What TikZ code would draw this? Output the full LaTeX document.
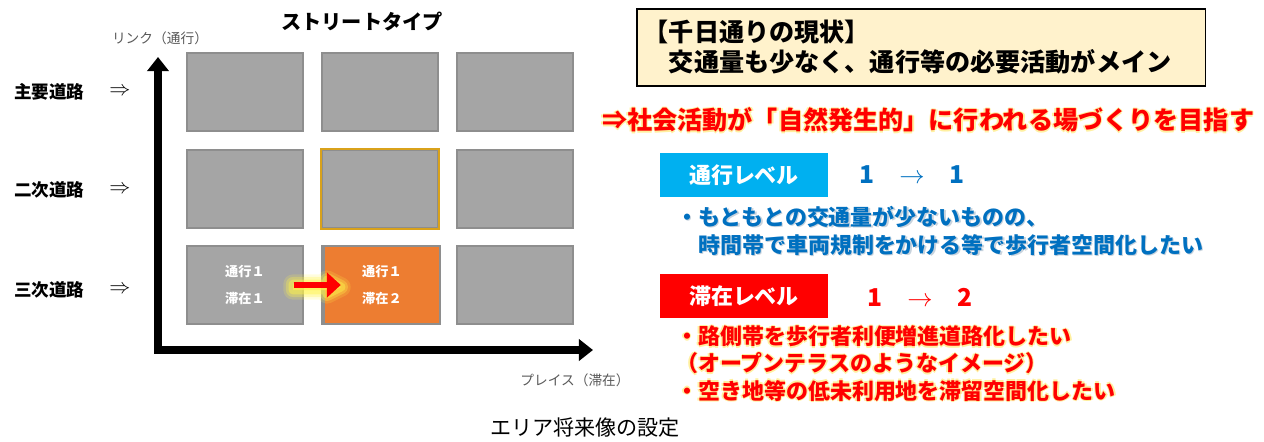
\documentclass[tikz,border=0pt]{standalone}
\usepackage{fontspec}
\setmainfont{Noto Sans CJK JP}
\usepackage{xcolor}
\usetikzlibrary{arrows.meta}

\definecolor{cellgray}{HTML}{A5A5A5}
\definecolor{cellline}{HTML}{8E8E8E}
\definecolor{celloran}{HTML}{ED7D31}
\definecolor{goldline}{HTML}{D9A21B}
\definecolor{notegray}{HTML}{595959}
\definecolor{statusyel}{HTML}{FFF2CC}
\definecolor{tsukoblue}{HTML}{00B0F0}
\definecolor{textblue}{HTML}{0070C0}
\definecolor{glowyel}{HTML}{FFF0A0}
\definecolor{arrowglow}{HTML}{FFF34A}
\definecolor{shadegray}{HTML}{C8D3DD}

% yellow halo round a line of text
\newcommand\haloline[1]{\leavevmode
  \rlap{\color{glowyel}\hspace*{0.8pt}#1}\rlap{\color{glowyel}\hspace*{-0.8pt}#1}%
  \rlap{\color{glowyel}\raisebox{0.8pt}{#1}}\rlap{\color{glowyel}\raisebox{-0.8pt}{#1}}#1}
% light shadow under a line of text
\newcommand\shadeline[1]{\leavevmode
  \rlap{\color{shadegray}\hspace*{0.7pt}\raisebox{-0.7pt}{#1}}#1}

\tikzset{
  cell/.style={draw=cellline, fill=cellgray, line width=0.8pt,
    minimum width=2.32cm, minimum height=1.56cm, inner sep=0pt,
    text=white, font=\fontsize{7.5}{15}\selectfont\bfseries, align=center},
  roadlabel/.style={anchor=west, font=\fontsize{10}{12}\selectfont\bfseries},
  axisnote/.style={text=notegray, font=\fontsize{7.8}{9}\selectfont},
  axis/.style={line width=4pt, {Triangle[width=12pt,length=8pt]}-{Triangle[width=12pt,length=8pt]}},
  levelbox/.style={minimum width=3.36cm, minimum height=0.88cm, inner sep=0pt,
    text=white, font=\fontsize{12.5}{14}\selectfont\bfseries},
  levelstep/.style={font=\fontsize{14}{16}\selectfont\bfseries},
  bullets/.style={anchor=north west, align=left, inner sep=0pt,
    font=\fontsize{12.5}{15.8}\selectfont\bfseries}
}

\begin{document}
\begin{tikzpicture}[x=0.02cm, y=-0.02cm]
  \useasboundingbox (0,0) rectangle (1264,441);

  % left: street type matrix
  \node[font=\fontsize{11.5}{13}\selectfont\bfseries] (title) at (362,22) {ストリートタイプ};
  \node[axisnote] (linknote) at (160,38) {リンク（通行）};

  \node[roadlabel] (main) at (8,92) {主要道路};
  \node[roadlabel] (second) at (8,190) {二次道路};
  \node[roadlabel] (third) at (8,290) {三次道路};
  \foreach \y/\n in {92/1,190/2,290/3}
    \node[font=\fontsize{12}{12}\selectfont] (to\n) at (120,\y) {$\Rightarrow$};

  \foreach \y [count=\r] in {92,189,285}
    \foreach \x [count=\c] in {245,380,515}
      \node[cell] (b\r\c) at (\x,\y) {};
  \draw[goldline, line width=1pt] (b22.south west) rectangle (b22.north east);
  \node[cell] (now) at (b31) {通行１\\滞在１};
  \node[cell, fill=celloran, draw=cellline] (goal) at (382,285) {通行１\\滞在２};

  % soft glow behind the arrow
  \foreach \w/\o in {11/0.18,8/0.3,5/0.45}
    \draw[arrowglow, line width=\w pt, line join=round, opacity=\o, fill=arrowglow]
      (293,284) -- (327,284) -- (327,280) -- (341,287) -- (327,294) -- (327,290) -- (293,290) -- cycle;
  \draw[red, line width=3.2pt, -{Triangle[width=14pt,length=8pt]}]
    ([xshift=-0.2cm]now.east) -- ([xshift=0.35cm]goal.west);

  \coordinate (ytop) at (158,57);
  \coordinate (origin) at (158,350);
  \coordinate (xend) at (593,350);
  \draw[axis] (ytop) -- (origin) -- (xend);

  \node[axisnote] (placenote) at (575,380) {プレイス（滞在）};
  \node[font=\fontsize{12}{14}\selectfont] (caption) at (585,428) {エリア将来像の設定};

  % right: present state and targets
  \node[draw=black, fill=statusyel, line width=0.9pt, minimum width=11.38cm,
    minimum height=1.54cm, anchor=north west, text width=11.1cm, align=left,
    font=\fontsize{14.3}{17}\selectfont\bfseries] (status) at (636,8)
    {【千日通りの現状】\\　交通量も少なく、通行等の必要活動がメイン};
  \node[anchor=west, text=red, font=\fontsize{14.3}{16}\selectfont\bfseries] (aim) at (596,120)
    {\haloline{⇒社会活動が「自然発生的」に行われる場づくりを目指す}};

  \node[levelbox, fill=tsukoblue] (tsuko) at (744,175) {通行レベル};
  \node[levelstep, text=textblue] (tsukostep) at (912,175) {1\quad$\rightarrow$\quad1};
  \node[bullets, text=textblue] (tsukonote) at (676,206)
    {\shadeline{・もともとの交通量が少ないものの、}\\\shadeline{　時間帯で車両規制をかける等で歩行者空間化したい}};

  \node[levelbox, fill=red] (taizai) at (744,296) {滞在レベル};
  \node[levelstep, text=red] (taizaistep) at (920,297) {1\quad$\rightarrow$\quad2};
  \node[bullets, text=red, font=\fontsize{12.5}{15.5}\selectfont\bfseries] (taizainote) at (676,324)
    {\haloline{・路側帯を歩行者利便増進道路化したい}\\\haloline{（オープンテラスのようなイメージ）}\\\haloline{・空き地等の低未利用地を滞留空間化したい}};
\end{tikzpicture}
\end{document}
